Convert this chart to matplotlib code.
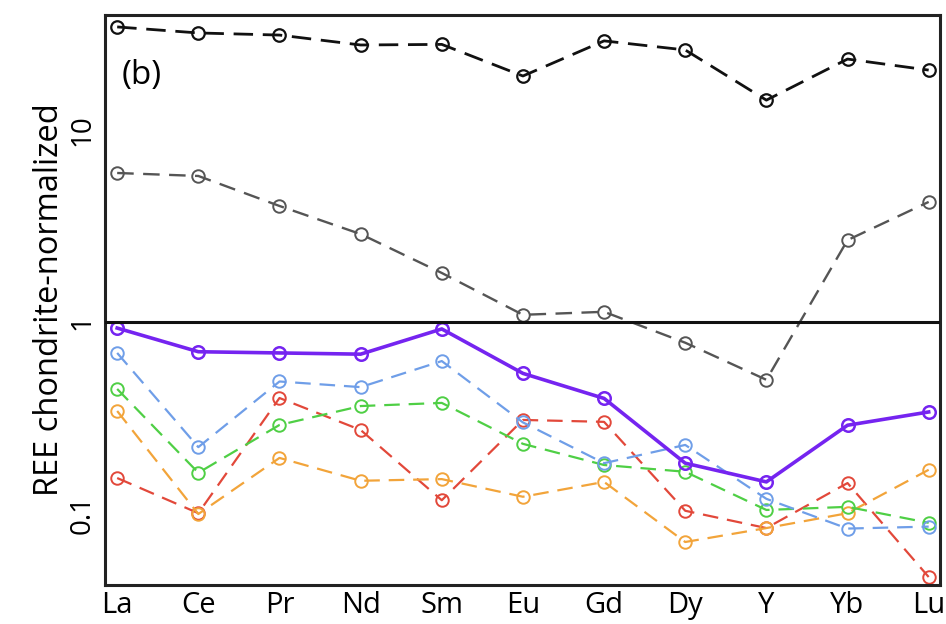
import matplotlib
matplotlib.use("Agg")
import matplotlib.pyplot as plt
import numpy as np

plt.rcParams["font.family"] = ["Open Sans", "DejaVu Sans"]

elements = ["La", "Ce", "Pr", "Nd", "Sm", "Eu", "Gd", "Dy", "Y", "Yb", "Lu"]

black_vals = [34.4, 32.0, 31.2, 27.7, 27.9, 19.1, 29.1, 26.1, 14.3, 23.4, 20.5]
gray_vals = [5.97, 5.76, 4.02, 2.87, 1.80, 1.09, 1.13, 0.78, 0.50, 2.67, 4.22]
purple_vals = [0.93, 0.70, 0.69, 0.68, 0.92, 0.54, 0.40, 0.184, 0.147, 0.29, 0.34]
blue_vals = [0.69, 0.223, 0.49, 0.458, 0.626, 0.30, 0.184, 0.229, 0.120, 0.084, 0.086]
green_vals = [0.448, 0.164, 0.291, 0.365, 0.379, 0.232, 0.180, 0.166, 0.105, 0.109, 0.090]
orange_vals = [0.344, 0.100, 0.196, 0.149, 0.152, 0.123, 0.147, 0.0715, 0.0845, 0.101, 0.170]
red_vals = [0.154, 0.101, 0.402, 0.274, 0.118, 0.309, 0.302, 0.104, 0.0845, 0.145, 0.047]

x = np.arange(len(elements))

fig = plt.figure(figsize=(9.46, 6.24), dpi=100)
ax = fig.add_axes([0.111, 0.0625, 0.8827, 0.9135])

def draw(vals, color, ls="--", lw=1.6, mew=1.4, dashes=(7, 4)):
    kw = dict(color=color, lw=lw, marker="o", ms=9, mfc="none",
              mec=color, mew=mew)
    if ls == "--":
        ax.plot(x, vals, ls, dashes=dashes, **kw)
    else:
        ax.plot(x, vals, ls, **kw)

draw(black_vals, "#111111", lw=2.0, mew=1.6, dashes=(7, 3.5))
draw(gray_vals, "#555555", lw=1.7)
draw(red_vals, "#e2483a")
draw(orange_vals, "#f2a43a")
draw(green_vals, "#4fcf45")
draw(blue_vals, "#6f9ee8")
draw(purple_vals, "#7524f0", ls="-", lw=2.6, mew=1.8)

ax.axhline(1, color="#111111", lw=2.2, zorder=5)

ax.set_yscale("log")
ax.set_ylim(0.0427, 39.7)
ax.set_xlim(-0.15, 10.14)

ax.set_xticks(x)
ax.set_xticklabels(elements, fontsize=21)
ax.set_yticks([0.1, 1, 10])
ax.set_yticklabels(["0.1", "1", "10"], fontsize=20, rotation=90, va="center")
ax.yaxis.set_minor_locator(matplotlib.ticker.NullLocator())
ax.tick_params(axis="both", length=0)
ax.tick_params(axis="x", pad=4)
ax.tick_params(axis="y", pad=6)

for s in ax.spines.values():
    s.set_linewidth(2.2)
    s.set_color("#222222")

ax.set_ylabel("REE chondrite-normalized", fontsize=23.5, labelpad=2)
ax.text(0.02, 0.893, "(b)", transform=ax.transAxes, fontsize=24, va="center")

plt.savefig("out.png", dpi=100)
plt.close()
